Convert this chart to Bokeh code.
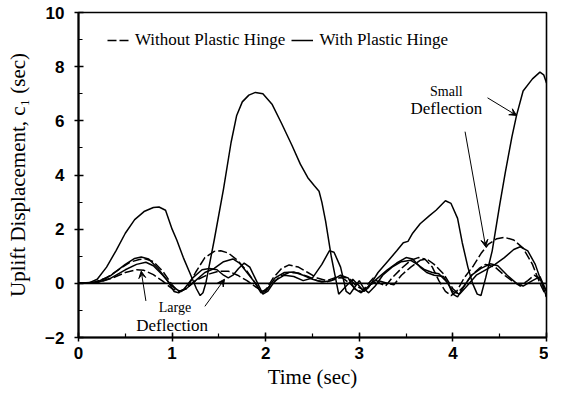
from bokeh.plotting import figure
from bokeh.models import (Range1d, Legend, LegendItem, Label, Arrow, VeeHead,
                          Span, FixedTicker)
from bokeh.embed import file_html
from bokeh.resources import INLINE

# ---- data ----
# Solid, small deflection (with plastic hinge) - the large response
t_s1 = [0, 0.1, 0.2, 0.3, 0.4, 0.5, 0.6, 0.7, 0.8, 0.86, 0.93, 1.0, 1.05, 1.12, 1.2,
        1.26, 1.3, 1.33, 1.36, 1.45, 1.55, 1.63, 1.69, 1.75, 1.82, 1.89, 1.97, 2.07,
        2.17, 2.28, 2.37, 2.45, 2.52, 2.57, 2.6, 2.64, 2.7, 2.74, 2.78, 2.86, 2.93,
        3.0, 3.05, 3.1, 3.2, 3.3, 3.4, 3.47, 3.52, 3.57, 3.65, 3.75, 3.82, 3.92,
        3.98, 4.05, 4.1, 4.16, 4.21, 4.26, 4.3, 4.35, 4.42, 4.5, 4.56, 4.63, 4.68,
        4.75, 4.85, 4.93, 4.97, 5.0]
v_s1 = [0, 0.0, 0.15, 0.6, 1.2, 1.85, 2.35, 2.65, 2.8, 2.82, 2.7, 2.0, 1.6, 0.95, 0.3,
        -0.2, -0.45, -0.35, 0.0, 1.6, 3.5, 5.2, 6.2, 6.7, 6.95, 7.05, 7.0, 6.6,
        5.9, 5.1, 4.4, 3.9, 3.6, 3.4, 3.0, 2.3, 1.0, 0.3, -0.4, -0.1, 0.15,
        -0.1, -0.3, -0.15, 0.4, 0.8, 1.2, 1.5, 1.55, 1.85, 2.2, 2.5, 2.7, 3.05,
        2.95, 2.4, 1.5, 0.6, 0.0, -0.4, -0.45, 0.2, 1.2, 2.9, 4.1, 5.4, 6.2,
        7.1, 7.55, 7.8, 7.7, 7.4]

# Dashed, small deflection (without plastic hinge)
t_d1 = [0, 0.15, 0.3, 0.45, 0.55, 0.65, 0.72, 0.8, 0.9, 1.0, 1.05, 1.1, 1.17, 1.25,
        1.35, 1.45, 1.52, 1.6, 1.7, 1.8, 1.88, 1.95, 2.0, 2.08, 2.17, 2.25, 2.35,
        2.45, 2.55, 2.65, 2.75, 2.82, 2.9, 2.97, 3.03, 3.1, 3.15, 3.22, 3.28, 3.35,
        3.45, 3.55, 3.63, 3.7, 3.78, 3.85, 3.92, 3.98, 4.04, 4.12, 4.22, 4.3, 4.38,
        4.47, 4.55, 4.65, 4.75, 4.85, 4.93, 5.0]
v_d1 = [0, 0.02, 0.2, 0.55, 0.78, 0.88, 0.9, 0.8, 0.45, -0.05, -0.25, -0.3, -0.1, 0.4,
        0.95, 1.18, 1.2, 1.12, 0.85, 0.45, 0.05, -0.3, -0.25, 0.2, 0.55, 0.68, 0.6,
        0.4, 0.2, 0.1, 0.22, 0.2, 0.0, -0.25, -0.3, 0.0, 0.2, 0.0, -0.1, 0.2,
        0.55, 0.85, 0.95, 0.9, 0.6, 0.1, -0.3, -0.45, -0.3, 0.2, 0.65, 1.1, 1.45,
        1.65, 1.7, 1.6, 1.3, 0.7, 0.0, -0.5]

# Solid, large deflection (with plastic hinge)
t_s2 = [0, 0.2, 0.35, 0.5, 0.6, 0.67, 0.75, 0.85, 0.95, 1.02, 1.07, 1.13, 1.22, 1.32,
        1.4, 1.48, 1.55, 1.6, 1.65, 1.71, 1.77, 1.83, 1.9, 1.97, 2.02, 2.1, 2.2,
        2.3, 2.4, 2.5, 2.6, 2.68, 2.73, 2.8, 2.86, 2.9, 2.96, 3.0, 3.05, 3.1, 3.17,
        3.25, 3.35, 3.45, 3.55, 3.62, 3.7, 3.78, 3.85, 3.95, 4.0, 4.05, 4.12, 4.2,
        4.3, 4.4, 4.48, 4.58, 4.68, 4.75, 4.85, 4.93, 5.0]
v_s2 = [0, 0.05, 0.3, 0.7, 0.92, 0.97, 0.9, 0.55, 0.1, -0.3, -0.35, -0.2, 0.2, 0.5,
        0.55, 0.5, 0.3, 0.2, 0.3, 0.55, 0.75, 0.6, 0.1, -0.4, -0.3, 0.1, 0.3,
        0.25, 0.1, 0.2, 0.7, 1.2, 1.15, 0.6, -0.3, -0.4, -0.1, 0.1, -0.2, -0.35, -0.1,
        0.3, 0.6, 0.8, 0.85, 0.7, 0.5, 0.4, 0.35, 0.0, -0.4, -0.5, -0.1, 0.3,
        0.55, 0.72, 0.65, 0.3, 0.0, -0.1, 0.1, 0.25, -0.3]

# Solid, second large-deflection trace
t_s3 = [0, 0.2, 0.35, 0.5, 0.62, 0.72, 0.8, 0.9, 1.0, 1.08, 1.15, 1.25, 1.35, 1.45,
        1.55, 1.65, 1.72, 1.8, 1.88, 1.95, 2.0, 2.1, 2.2, 2.3, 2.4, 2.5, 2.6, 2.7,
        2.8, 2.88, 2.95, 3.02, 3.1, 3.2, 3.3, 3.4, 3.5, 3.57, 3.65, 3.72, 3.8, 3.9,
        4.0, 4.07, 4.15, 4.25, 4.35, 4.45, 4.55, 4.65, 4.72, 4.8, 4.88, 4.95, 5.0]
v_s3 = [0, 0.03, 0.2, 0.5, 0.7, 0.78, 0.65, 0.3, -0.1, -0.3, -0.2, 0.1, 0.4, 0.55,
        0.8, 0.9, 0.75, 0.4, 0.05, -0.35, -0.3, 0.2, 0.4, 0.42, 0.3, 0.15, 0.05, 0.1,
        0.3, 0.2, -0.2, -0.35, -0.1, 0.2, 0.5, 0.75, 0.95, 0.9, 0.6, 0.4, 0.3, 0.25,
        -0.3, -0.4, -0.1, 0.3, 0.5, 0.7, 0.95, 1.25, 1.35, 1.2, 0.7, 0.0, -0.5]

# Dashed, large deflection (without plastic hinge)
t_d2 = [0, 0.2, 0.35, 0.5, 0.62, 0.7, 0.8, 0.9, 1.0, 1.07, 1.15, 1.25, 1.4, 1.5, 1.6,
        1.7, 1.8, 1.9, 1.97, 2.05, 2.15, 2.25, 2.35, 2.45, 2.55, 2.65, 2.75, 2.82,
        2.9, 2.97, 3.05, 3.12, 3.2, 3.3, 3.37, 3.45, 3.55, 3.65, 3.72, 3.8, 3.9,
        4.0, 4.05, 4.12, 4.2, 4.28, 4.35, 4.45, 4.55, 4.65, 4.72, 4.8, 4.87, 4.93, 5.0]
v_d2 = [0, 0.02, 0.18, 0.4, 0.5, 0.48, 0.32, 0.08, -0.2, -0.3, -0.2, 0.1, 0.35, 0.45,
        0.45, 0.3, 0.1, -0.15, -0.3, -0.1, 0.25, 0.4, 0.38, 0.25, 0.1, 0.05, 0.15, 0.25,
        0.15, -0.1, -0.25, -0.05, 0.1, 0.0, -0.05, 0.3, 0.6, 0.85, 0.9, 0.7, 0.35,
        -0.2, -0.35, -0.1, 0.3, 0.55, 0.7, 0.6, 0.3, 0.05, -0.1, 0.1, 0.3, 0.15, -0.3]

x_ticks = [0, 1, 2, 3, 4, 5]
y_ticks = [-2, 0, 2, 4, 6, 8, 10]
legend_labels = ["Without Plastic Hinge", "With Plastic Hinge"]

SERIF = "Liberation Serif"
SANS = "Liberation Sans"

p = figure(width=548, height=391, output_backend="svg", toolbar_location=None,
           x_range=Range1d(0, 5), y_range=Range1d(-2, 10),
           min_border_left=78, min_border_right=2, min_border_top=12, min_border_bottom=3)
p.background_fill_color = "white"
p.border_fill_color = "white"
p.grid.visible = False
p.outline_line_color = "black"
p.outline_line_width = 1.6

for ax in (p.xaxis[0], p.yaxis[0]):
    ax.axis_line_width = 2
    ax.major_tick_line_width = 1.5
    ax.minor_tick_line_width = 1.2
    ax.major_tick_in = 5
    ax.major_tick_out = 4
    ax.minor_tick_in = 4
    ax.minor_tick_out = 0
    ax.major_label_text_font = SANS
    ax.major_label_text_font_size = "17px"
    ax.major_label_text_font_style = "bold"
    ax.major_label_text_color = "black"
    ax.axis_label_text_font = SERIF
    ax.axis_label_text_font_size = "21px"
    ax.axis_label_text_font_style = "normal"
    ax.axis_label_text_color = "black"

p.xaxis.ticker = FixedTicker(ticks=x_ticks, minor_ticks=[0.5 * i for i in range(11)])
p.yaxis.ticker = FixedTicker(ticks=y_ticks, minor_ticks=list(range(-2, 11)))
p.xaxis.axis_label = "Time (sec)"
p.yaxis.axis_label = "Uplift Displacement, c\u2081 (sec)"
p.xaxis.major_label_standoff = 5
p.yaxis.major_label_standoff = 10
p.xaxis.axis_label_standoff = 3
p.yaxis.axis_label_standoff = 12

p.add_layout(Span(location=0, dimension="width", line_color="black", line_width=1.6))

lw = 1.5
r_d1 = p.line(t_d1, v_d1, line_color="black", line_width=lw, line_dash="9 3")
r_d2 = p.line(t_d2, v_d2, line_color="black", line_width=lw, line_dash="9 3")
r_s3 = p.line(t_s3, v_s3, line_color="black", line_width=lw)
r_s2 = p.line(t_s2, v_s2, line_color="black", line_width=lw)
r_s1 = p.line(t_s1, v_s1, line_color="black", line_width=lw)

legend = Legend(items=[LegendItem(label=legend_labels[0], renderers=[r_d1]),
                       LegendItem(label=legend_labels[1], renderers=[r_s1])],
                orientation="horizontal", location=(26, 284),
                label_text_font=SERIF, label_text_font_size="17px",
                label_text_color="black",
                glyph_width=22, glyph_height=14, label_standoff=6, spacing=6,
                padding=3, border_line_alpha=0, background_fill_alpha=0)
p.add_layout(legend)

# annotations
def lab(x, y, txt, size="14px"):
    p.add_layout(Label(x=x, y=y, text=txt, text_font=SERIF, text_font_size=size,
                       text_align="center", text_baseline="middle", text_color="black"))

lab(3.93, 7.1, "Small", "14px")
lab(3.93, 6.45, "Deflection", "17px")
lab(1.03, -0.9, "Large", "14px")
lab(1.0, -1.55, "Deflection", "17px")

def arr(x0, y0, x1, y1):
    p.add_layout(Arrow(x_start=x0, y_start=y0, x_end=x1, y_end=y1, line_width=1,
                       end=VeeHead(size=7, line_width=1, fill_color="black")))

arr(4.37, 6.85, 4.68, 6.2)
arr(4.13, 5.6, 4.35, 1.35)
arr(0.72, -0.65, 0.67, 0.45)
arr(1.35, -0.85, 1.56, 0.15)

open("out.html", "w").write(file_html(p, INLINE))
